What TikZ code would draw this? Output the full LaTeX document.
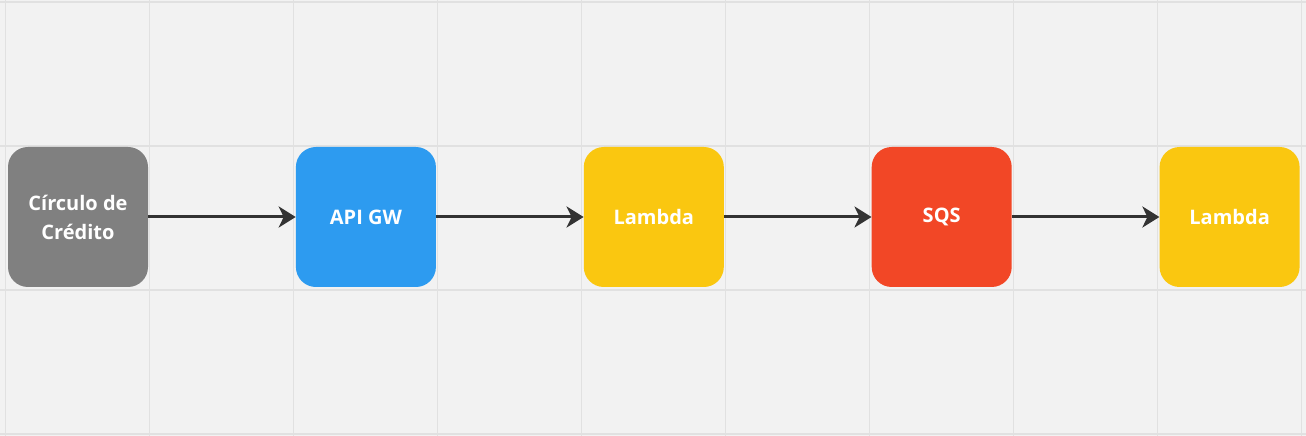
\documentclass[tikz,border=0pt]{standalone}
\usepackage{fontspec}
\setmainfont{Open Sans}
\usepackage{xcolor}
\usetikzlibrary{positioning,arrows.meta}

\definecolor{canvas}{HTML}{F2F2F2}
\definecolor{gridline}{HTML}{E1E1E1}
\definecolor{boxgray}{HTML}{808080}
\definecolor{boxblue}{HTML}{2D9BF0}
\definecolor{boxyellow}{HTML}{FAC710}
\definecolor{boxred}{HTML}{F24726}
\definecolor{linkdark}{HTML}{333333}

\tikzset{
    service/.style={rounded corners=20pt, minimum width=140pt, minimum height=140pt,
        inner sep=0pt, align=center, text=white, font=\bfseries\fontsize{20}{29}\selectfont},
    link/.style={linkdark, line width=3pt, -{Stealth[length=17pt, width=21pt, inset=5pt]}}
}

\begin{document}
\begin{tikzpicture}[x=1pt, y=1pt]
    % Canvas
    \fill[canvas] (0,0) rectangle (1306,436);
    \useasboundingbox (0,0) rectangle (1306,436);

    % Grid
    \foreach \x in {0,...,9} {
        \draw[gridline, line width=1.3pt] (5.5+144*\x,0) -- (5.5+144*\x,436);
    }
    \foreach \y in {2,146,290,434} {
        \draw[gridline, line width=1.3pt] (0,\y) -- (1306,\y);
    }

    % Services
    \node[service, fill=boxgray] (circulo) at (78,219) {Círculo de\\Crédito};
    \node[service, fill=boxblue, right=147.5pt of circulo] (apigw) {API GW};
    \node[service, fill=boxyellow, right=147.5pt of apigw] (lambdaA) {Lambda};
    \node[service, fill=boxred, right=147.5pt of lambdaA] (sqs) {SQS};
    \node[service, fill=boxyellow, right=147.5pt of sqs] (lambdaB) {Lambda};

    % Flow
    \draw[link] (circulo) -- (apigw);
    \draw[link] (apigw) -- (lambdaA);
    \draw[link] (lambdaA) -- (sqs);
    \draw[link] (sqs) -- (lambdaB);
\end{tikzpicture}
\end{document}
